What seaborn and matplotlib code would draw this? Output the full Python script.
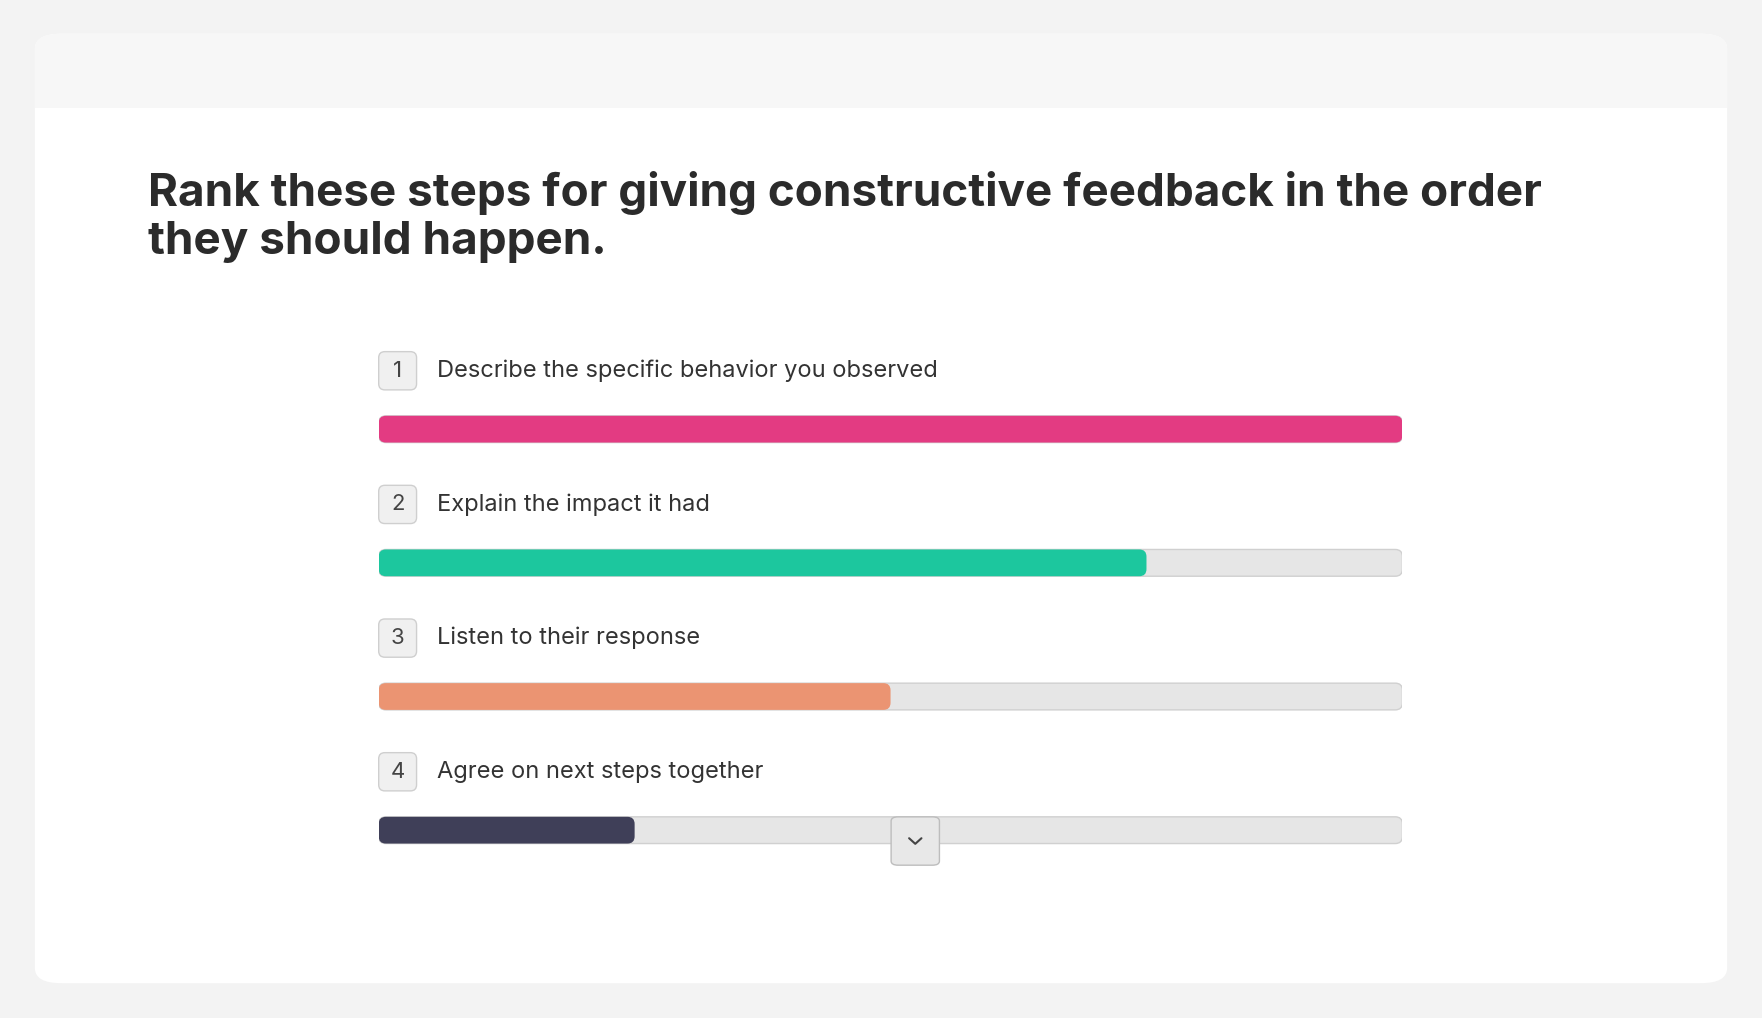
import matplotlib
matplotlib.use("Agg")
import matplotlib.pyplot as plt
import seaborn as sns
import pandas as pd
from matplotlib.patches import FancyBboxPatch
from matplotlib.lines import Line2D

labels = ["Describe the specific behavior you observed", "Explain the impact it had",
          "Listen to their response", "Agree on next steps together"]
ranks = ["1", "2", "3", "4"]
values = [100, 75, 50, 25]
colors = ["#ff1f7d", "#00e3ad", "#ff8b5e", "#3b3b5c"]
title = "Rank these steps for giving constructive feedback in the order\nthey should happen."

sns.set_theme(style="white")
plt.rcParams['font.family'] = ['Inter', 'DejaVu Sans']

W, H = 1568, 906
fig = plt.figure(figsize=(17.62, 10.18), dpi=100)
fig.patch.set_facecolor("#f3f3f3")

def fx(x): return x / W
def fy(y): return 1 - y / H

# card
fig.patches.append(FancyBboxPatch((fx(31), fy(875)), fx(1537) - fx(31), fy(30) - fy(875),
    boxstyle="round,pad=0,rounding_size=0.015", transform=fig.transFigure,
    facecolor="white", edgecolor="none", zorder=0))
fig.patches.append(FancyBboxPatch((fx(31), fy(96)), fx(1537) - fx(31), fy(30) - fy(96),
    boxstyle="round,pad=0,rounding_size=0.015", transform=fig.transFigure,
    facecolor="#f7f7f7", edgecolor="none", zorder=0.5))
fig.patches.append(plt.Rectangle((fx(31), fy(96)), fx(1537) - fx(31), 0.02,
    transform=fig.transFigure, facecolor="#f7f7f7", edgecolor="none", zorder=0.5))

fig.text(fx(132), fy(152), title, fontsize=33, fontweight="bold", color="#2b2b2b",
         va="top", ha="left", linespacing=1.2, zorder=3)

ax = fig.add_axes([fx(337), fy(790), fx(1248) - fx(337), fy(290) - fy(790)])
ax.set_zorder(2)
ax.set_facecolor("none")
df = pd.DataFrame({"label": labels, "value": values, "full": [100] * 4})
sns.barplot(data=df, x="full", y="label", color="#e6e6e6", width=0.2, ax=ax, orient="h")
sns.barplot(data=df, x="value", y="label", hue="label", palette=colors, width=0.2,
            ax=ax, orient="h", legend=False)
ax.set_xlim(0, 100)
ax.set_ylim(3.43, -0.773)
ax.axis("off")

aspect = (1 / 119) / (100 / 911)
rects = list(ax.patches)
for i, r in enumerate(rects):
    x, y, w, h = r.get_x(), r.get_y(), r.get_width(), r.get_height()
    fc = r.get_facecolor()
    r.remove()
    bg = i < 4
    ax.add_patch(FancyBboxPatch((x, y), w, h,
        boxstyle="round,pad=0,rounding_size=0.7", mutation_aspect=aspect,
        facecolor=fc, edgecolor="#d0d0d0" if bg else "none",
        linewidth=1 if bg else 0, zorder=1 if bg else 2))

for i, (lab, rk) in enumerate(zip(labels, ranks)):
    yc = i - 0.437
    ax.add_patch(FancyBboxPatch((0, yc - 0.143), 3.7, 0.286,
        boxstyle="round,pad=0,rounding_size=0.6", mutation_aspect=aspect,
        facecolor="#f0f0f0", edgecolor="#cfcfcf", linewidth=1, clip_on=False))
    ax.text(1.85, yc, rk, ha="center", va="center", fontsize=16, color="#444444")
    ax.text(5.7, yc, lab, ha="left", va="center", fontsize=17, color="#333333")

# chevron button
fig.patches.append(FancyBboxPatch((fx(793), fy(770)), fx(836) - fx(793), fy(727) - fy(770),
    boxstyle="round,pad=0,rounding_size=0.004", transform=fig.transFigure,
    facecolor="#e8e8e8", edgecolor="#bdbdbd", linewidth=1, zorder=5))
fig.lines.append(Line2D([fx(809), fx(814.5), fx(820)], [fy(746), fy(751), fy(746)],
    transform=fig.transFigure, color="#444444", linewidth=1.5, zorder=6))

fig.savefig("out.png", dpi=100, facecolor=fig.get_facecolor())
